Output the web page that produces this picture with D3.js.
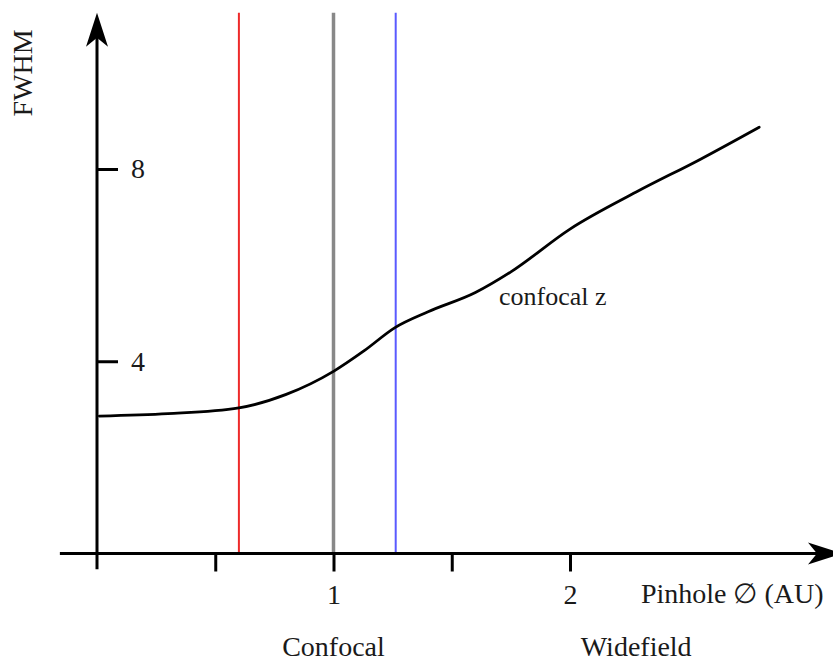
<!DOCTYPE html>
<html>
<head>
<meta charset="utf-8">
<script src="https://cdn.jsdelivr.net/npm/d3@7"></script>
<style>
  body { margin: 0; background: #fff; }
  text { font-family: "Liberation Serif", serif; fill: #1a1a1a; }
</style>
</head>
<body>
<div id="container"></div>
<script>
const width = 833;
const height = 661;

// pinhole diameter (AU) and FWHM
const pinhole = [0.01, 0.30, 0.60, 0.80, 1.00, 1.13, 1.26, 1.40, 1.60, 1.75, 2.00, 2.28, 2.55, 2.80];
const fwhm    = [2.86, 2.91, 3.03, 3.31, 3.79, 4.22, 4.70, 5.03, 5.43, 5.86, 6.75, 7.52, 8.20, 8.87];

const xTicks = [0.5, 1, 1.5, 2];
const xTickLabels = { 1: "1", 2: "2" };
const yTicks = [4, 8];

// marker lines: red, grey, blue
const markerX = [0.60, 1.0, 1.263];
const markerColors = ["#ee2a2a", "#888888", "#5a5aff"];
const markerWidths = [2, 3.5, 2];

const regionLabels = [{ x: 1.0, text: "Confocal" }, { x: 2.28, text: "Widefield" }];

let svg, xScale, yScale;

function init() {
  xScale = d3.scaleLinear().domain([0, 2]).range([97, 570]);
  yScale = d3.scaleLinear().domain([0, 8]).range([553.5, 169]);

  svg = d3.select("#container").append("svg")
    .attr("width", width)
    .attr("height", height);

  // vertical marker lines
  svg.selectAll("line.marker")
    .data(markerX)
    .join("line")
    .attr("class", "marker")
    .attr("x1", d => xScale(d)).attr("x2", d => xScale(d))
    .attr("y1", yScale(11.25)).attr("y2", yScale(0))
    .attr("stroke", (d, i) => markerColors[i])
    .attr("stroke-width", (d, i) => markerWidths[i]);

  // x axis ticks + labels
  const xAxis = d3.axisBottom(xScale)
    .tickValues(xTicks)
    .tickSize(18)
    .tickPadding(13)
    .tickFormat(d => xTickLabels[d] || "");
  const gx = svg.append("g")
    .attr("transform", `translate(0,${yScale(0)})`)
    .call(xAxis);
  gx.select(".domain").remove();
  gx.selectAll(".tick line").attr("stroke", "#000").attr("stroke-width", 3);
  gx.selectAll(".tick text")
    .style("font-family", "Liberation Serif")
    .style("font-size", "28px")
    .attr("fill", "#1a1a1a");

  // y axis ticks + labels
  const yAxis = d3.axisRight(yScale)
    .tickValues(yTicks)
    .tickSize(21)
    .tickPadding(13)
    .tickFormat(d3.format("d"));
  const gy = svg.append("g")
    .attr("transform", `translate(${xScale(0)},0)`)
    .call(yAxis);
  gy.select(".domain").remove();
  gy.selectAll(".tick line").attr("stroke", "#000").attr("stroke-width", 3);
  gy.selectAll(".tick text")
    .style("font-family", "Liberation Serif")
    .style("font-size", "28px")
    .attr("fill", "#1a1a1a");

  // axis lines with arrow heads
  const x0 = xScale(-0.157), x1 = xScale(3.15);
  const y0 = yScale(-0.33), y1 = yScale(11.25);
  svg.append("line")
    .attr("x1", x0).attr("x2", x1 - 20)
    .attr("y1", yScale(0)).attr("y2", yScale(0))
    .attr("stroke", "#000").attr("stroke-width", 3);
  svg.append("line")
    .attr("x1", xScale(0)).attr("x2", xScale(0))
    .attr("y1", y0).attr("y2", y1 + 20)
    .attr("stroke", "#000").attr("stroke-width", 3);

  const head = "M0,0 L-34,-11 L-25,0 L-34,11 Z";
  svg.append("path").attr("d", head)
    .attr("transform", `translate(${x1},${yScale(0)})`)
    .attr("fill", "#000");
  svg.append("path").attr("d", head)
    .attr("transform", `translate(${xScale(0)},${y1}) rotate(-90)`)
    .attr("fill", "#000");

  // curve
  const pts = pinhole.map((p, i) => [p, fwhm[i]]);
  const line = d3.line()
    .x(d => xScale(d[0]))
    .y(d => yScale(d[1]))
    .curve(d3.curveMonotoneX);
  svg.append("path")
    .datum(pts)
    .attr("d", line)
    .attr("fill", "none")
    .attr("stroke", "#000")
    .attr("stroke-width", 2.8)
    .attr("stroke-linecap", "round");

  // texts
  svg.append("text")
    .attr("x", xScale(1.70)).attr("y", yScale(5.18))
    .style("font-size", "26px")
    .text("confocal z");

  svg.append("text")
    .attr("x", xScale(2.30)).attr("y", 603)
    .style("font-size", "28px")
    .text("Pinhole \u2205 (AU)");

  svg.selectAll("text.region")
    .data(regionLabels)
    .join("text")
    .attr("class", "region")
    .attr("x", d => xScale(d.x))
    .attr("y", 656)
    .attr("text-anchor", "middle")
    .style("font-size", "28px")
    .text(d => d.text);

  svg.append("text")
    .attr("transform", `translate(32,${yScale(10.0)}) rotate(-90)`)
    .attr("text-anchor", "middle")
    .style("font-size", "28px")
    .text("FWHM");
}

init();
</script>
</body>
</html>
